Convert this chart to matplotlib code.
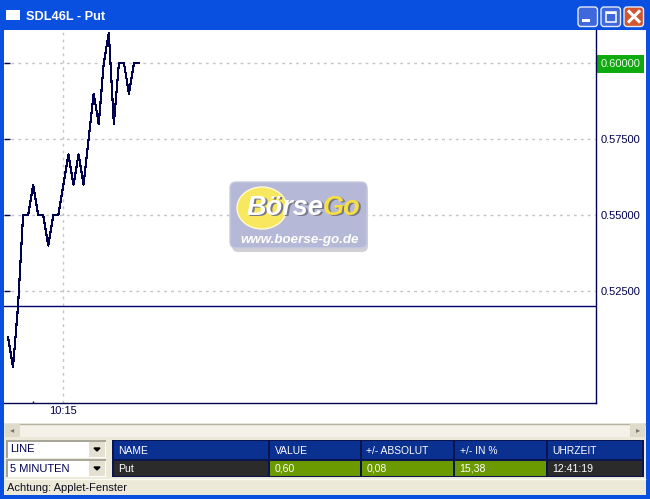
#Importing Required Libraries
import numpy as np
import matplotlib
matplotlib.use("Agg")
import matplotlib.pyplot as plt
from matplotlib.patches import Rectangle, FancyBboxPatch, Ellipse

plt.rcParams['font.family'] = ['Liberation Sans', 'DejaVu Sans']

#Chart data, one value every 5 minutes, minutes counted from 10:15
minutes = [-55, -50, -45, -40, -35, -30, -25, -20, -15, -10, -5, 0, 5, 10, 15, 20, 25, 30, 35, 40, 45, 50, 55, 60, 65, 70, 75]
prices = [0.51, 0.50, 0.52, 0.55, 0.55, 0.56, 0.55, 0.55, 0.54, 0.55, 0.55, 0.56, 0.57, 0.56, 0.57, 0.56, 0.575, 0.59, 0.58, 0.60, 0.61, 0.58, 0.60, 0.60, 0.59, 0.60, 0.60]
prev_close = 0.52
y_ticks = [0.525, 0.55, 0.575, 0.60]
y_labels = ["0.52500", "0.55000", "0.57500", "0.60000"]
x_ticks = [0]
x_labels = ["10:15"]
x_minor_ticks = [-30]

#Table and window texts
window_title = "SDL46L - Put"
combo_texts = ["LINE", "5 MINUTEN"]
table_header = ["NAME", "VALUE", "+/- ABSOLUT", "+/- IN %", "UHRZEIT"]
table_row = ["Put", "0,60", "0,08", "15,38", "12:41:19"]
status_text = "Achtung: Applet-Fenster"

W, H = 650, 499
NAVY = "#000050"
PANEL = "#ECE9D8"

fig = plt.figure(figsize=(W / 100, H / 100), dpi=100)

#Background axes in pixel coordinates for the window
bg = fig.add_axes([0, 0, 1, 1], zorder=0)
bg.set_xlim(0, W)
bg.set_ylim(H, 0)
bg.axis("off")

def box(x0, y0, x1, y1, color, ax=bg, **kw):
    ax.add_patch(Rectangle((x0, y0), x1 - x0, y1 - y0, facecolor=color, edgecolor="none", **kw))

#Window frame
box(0, 0, W, H, "#0A50E0")
title_colors = np.array([[10, 70, 215], [52, 140, 250], [10, 95, 240], [6, 85, 232], [5, 82, 228], [8, 92, 240], [14, 104, 248], [8, 88, 235], [4, 72, 205]]) / 255
bg.imshow(title_colors[:, None, :], extent=(0, W, 30, 0), aspect="auto", interpolation="bilinear", zorder=0.5)
bg.set_xlim(0, W)
bg.set_ylim(H, 0)
box(6, 10, 20, 20, "white", zorder=2)
bg.text(26, 16.5, window_title, color="white", fontsize=9.2, fontweight="bold", va="center", zorder=2)

#Window buttons
buttons = [(578, "#3F68DC"), (601, "#3F68DC"), (624, "#D2552F")]
for bx, col in buttons:
    bg.add_patch(FancyBboxPatch((bx, 7), 19.5, 19.5, boxstyle="round,pad=0,rounding_size=3", facecolor=col, edgecolor="#E4EAFA", linewidth=1, zorder=2))
box(582, 19, 590, 22, "white", zorder=3)
bg.add_patch(Rectangle((605.5, 11.5), 10.5, 10, facecolor="none", edgecolor="white", linewidth=1.1, zorder=3))
box(605.5, 11.5, 616, 14, "white", zorder=3)
bg.plot([629, 639], [11.5, 21.5], color="white", lw=2.2, zorder=3)
bg.plot([639, 629], [11.5, 21.5], color="white", lw=2.2, zorder=3)

#Panels below the chart
box(4, 30, 646, 495, PANEL, zorder=1)
box(4, 30, 646, 423, "white", zorder=1.5)

#Scrollbar
box(5, 423, 645, 437, "#F4F2E8", zorder=2)
bg.plot([5, 645], [423.5, 423.5], color="#B5B2A0", lw=1, zorder=2.5)
box(5, 424, 20, 437, "#DEDBCB", zorder=3)
box(630, 424, 645, 437, "#DEDBCB", zorder=3)
bg.text(12, 430.5, "\u25C2", color="#7A786C", fontsize=6, ha="center", va="center", zorder=4)
bg.text(638, 430.5, "\u25B8", color="#7A786C", fontsize=6, ha="center", va="center", zorder=4)

#Combo boxes
for i, txt in enumerate(combo_texts):
    y0 = 440 + i * 19
    box(6, y0, 106, y0 + 18, "#A8A698", zorder=2)
    box(7.5, y0 + 1.5, 105.5, y0 + 17.5, "white", zorder=2.2)
    box(89, y0 + 2, 105, y0 + 17, "#E4E1D2", zorder=2.4)
    bg.fill([94, 100, 97], [y0 + 8, y0 + 8, y0 + 11], color="black", zorder=2.6)
    bg.text(10, y0 + 9.5, txt, color=NAVY, fontsize=8, va="center", zorder=3)

#Table
col_edges = [113, 269, 361, 454, 547, 643]
row_colors = ["#2B2B2B", "#6A9A00", "#6A9A00", "#6A9A00", "#2B2B2B"]
box(112, 440, 644, 477, "#0A1450", zorder=2)
for i in range(len(table_header)):
    x0, x1 = col_edges[i], col_edges[i + 1]
    box(x0 + 1, 441, x1 - 1, 459, "#0A3090", zorder=3)
    box(x0 + 1, 460.5, x1 - 1, 476, row_colors[i], zorder=3)
    bg.text(x0 + 5.5, 450.5, table_header[i], color="white", fontsize=7.4, va="center", zorder=4)
    bg.text(x0 + 5.5, 468.5, table_row[i], color="white", fontsize=7.6, va="center", zorder=4)
bg.plot([5, 645], [479, 479], color="#FBFAF5", lw=1, zorder=2)

#Status line
bg.text(7, 488, status_text, color="#101020", fontsize=8, va="center", zorder=3)

#Chart axes, 10:15 sits at pixel 63, one minute is about one pixel
ax = fig.add_axes([4 / W, (H - 403) / H, (596 - 4) / W, (403 - 30) / H], zorder=1)
ax.patch.set_alpha(0)
ax.set_xlim(-58.9, 528)
ax.set_ylim(0.4882, 0.6109)
ax.plot(minutes, prices, color=NAVY, lw=0.8, antialiased=False, zorder=3)
ax.axhline(prev_close, color="#000070", lw=1, zorder=2)

ax.set_xticks(x_ticks)
ax.set_xticklabels(x_labels, fontsize=8, color=NAVY)
ax.set_xticks(x_minor_ticks, minor=True)
ax.set_yticks(y_ticks)
ax.set_yticklabels(y_labels, fontsize=8, color=NAVY)
ax.yaxis.tick_right()
ax.tick_params(axis="y", which="both", right=False, left=True, labelright=True, direction="in", length=4, width=1, color=NAVY, pad=3)
ax.tick_params(axis="x", length=0, pad=2)
ax.tick_params(axis="x", which="minor", length=1.5, width=1, direction="in", color=NAVY)
ax.grid(True, linestyle=(0, (2, 3)), color="#C4C4C4", linewidth=1)
ax.set_axisbelow(True)
for s in ["top", "left"]:
    ax.spines[s].set_visible(False)
for s in ["right", "bottom"]:
    ax.spines[s].set_color(NAVY)
    ax.spines[s].set_linewidth(1)

#Last price label in green
for lab, val in zip(ax.get_yticklabels(), y_ticks):
    if val == y_ticks[-1]:
        lab.set_color("#E8F5E8")
        lab.set_bbox(dict(facecolor="#0FAA0F", edgecolor="none", pad=3))

#Logo on top of the grid
top = fig.add_axes([0, 0, 1, 1], zorder=2)
top.set_xlim(0, W)
top.set_ylim(H, 0)
top.axis("off")
top.patch.set_alpha(0)
top.add_patch(FancyBboxPatch((232, 185), 136, 67, boxstyle="round,pad=0,rounding_size=6", facecolor="#D0D0D4", edgecolor="none"))
top.add_patch(FancyBboxPatch((230, 182), 137, 66, boxstyle="round,pad=0,rounding_size=6", facecolor="#B5B8D6", edgecolor="#C8CAE0", linewidth=1))
top.add_patch(Ellipse((262, 208), 50, 42, facecolor="#F8E860", edgecolor="#FFFBD0", linewidth=1))
top.text(287, 209.5, "B\u00f6rse", color="#777788", fontsize=19.5, fontweight="bold", style="italic", ha="center", va="center")
top.text(285.5, 208, "B\u00f6rse", color="white", fontsize=19.5, fontweight="bold", style="italic", ha="center", va="center")
top.text(343.5, 209.5, "Go", color="#777788", fontsize=19.5, fontweight="bold", style="italic", ha="center", va="center")
top.text(342, 208, "Go", color="#F6E040", fontsize=19.5, fontweight="bold", style="italic", ha="center", va="center")
top.text(299.5, 240, "www.boerse-go.de", color="white", fontsize=9.6, fontweight="bold", style="italic", ha="center", va="center")

fig.savefig("out.png", dpi=100)
